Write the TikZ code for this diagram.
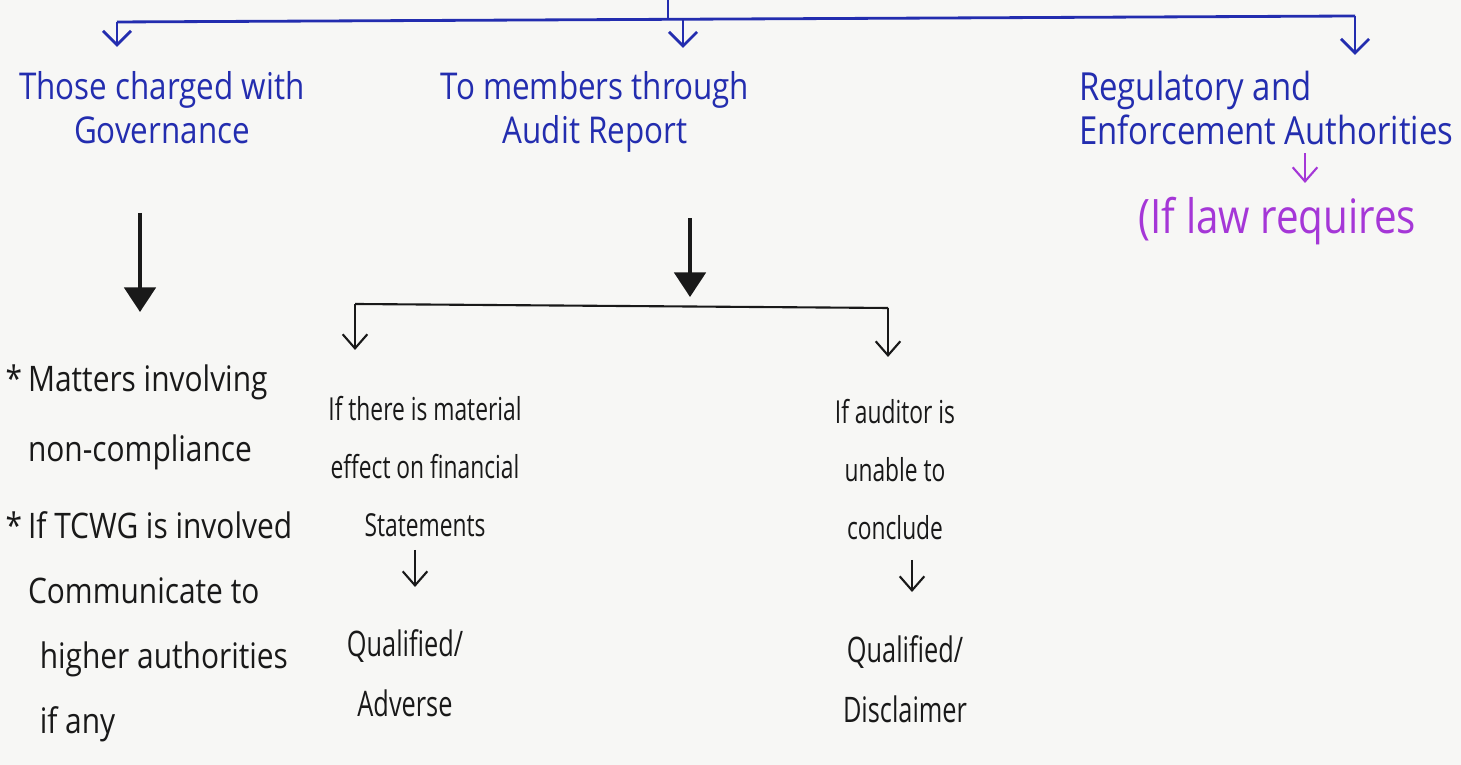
\documentclass[tikz,border=0pt]{standalone}
\usepackage{fontspec}
\setmainfont{Open Sans}[FakeStretch=0.85]
\newfontfamily\narrowhand{Open Sans}[FakeStretch=0.72]
\usetikzlibrary{positioning,arrows.meta}
\definecolor{paper}{RGB}{247,247,245}
\definecolor{blueink}{RGB}{35,45,175}
\definecolor{purpleink}{RGB}{165,55,215}
\definecolor{blackink}{RGB}{25,25,25}

\begin{document}
\begin{tikzpicture}[
    x=0.01cm, y=-0.01cm,
    head/.style={text=blueink, inner sep=0pt, align=center, font=\fontsize{10.5}{12.5}\selectfont},
    note/.style={text=blackink, inner sep=0pt, align=left, font=\fontsize{10}{20}\selectfont},
    cond/.style={text=blackink, inner sep=0pt, align=center, font=\narrowhand\fontsize{9}{16.5}\selectfont},
    verdict/.style={text=blackink, inner sep=0pt, align=center, font=\narrowhand\fontsize{10}{17}\selectfont},
    bar/.style={draw=blueink, line width=0.8pt},
    bluearrow/.style={bar, -{Straight Barb[length=4pt,width=8pt]}},
    bigarrow/.style={draw=blackink, line width=0.9pt, -{Triangle[length=7pt,width=9pt]}},
    penarrow/.style={draw=blackink, line width=0.6pt, -{Straight Barb[length=4pt,width=7pt]}}
]
\useasboundingbox (0,0) rectangle (1461,765);
\fill[paper] (0,0) rectangle (1461,765);

% Who the auditor reports to
\node[head, anchor=north] (gov) at (162,71) {Those charged with\\Governance};
\node[head, anchor=north] (memb) at (595,71) {To members through\\Audit Report};
\node[head, anchor=north east, align=left, font=\fontsize{11}{12.5}\selectfont] (reg) at (1454,70)
    {Regulatory and\\Enforcement Authorities};
\node[head, text=purpleink, anchor=north west, font=\fontsize{13.5}{14}\selectfont] (law) at (1138,196) {(If law requires};

% Top fork
\coordinate (root) at (668,0);
\coordinate (fork) at (668,20);
\coordinate (forkL) at (117,22);
\coordinate (forkM) at (683,20);
\coordinate (forkR) at (1355,16);
\draw[bar] (root) -- (fork);
\draw[bar] (forkL) -- (forkR);
\draw[bluearrow, shorten >=2.4mm] (forkL) -- (gov.north -| forkL);
\draw[bluearrow, shorten >=2.3mm] (forkM) -- (memb.north -| forkM);
\draw[bluearrow, shorten >=1.5mm] (forkR) -- (reg.north -| forkR);
\coordinate (lawx) at (1305,0);
\draw[penarrow, draw=purpleink, shorten <=0.8mm, shorten >=1.3mm] (reg.south -| lawx) -- (law.north -| lawx);

% Governance branch
\node[note, anchor=north west] (matters) at (5,364) {*\,Matters involving\\\phantom{*\,}non-compliance};
\node[note, anchor=north west, font=\fontsize{10}{18.5}\selectfont] (tcwg) at (5,511)
    {*\,If TCWG is involved\\\phantom{*\,}Communicate to\\\phantom{*\,\,\,}higher authorities\\\phantom{*\,\,\,}if any};
\coordinate (govx) at (140,0);
\draw[bigarrow, shorten <=6.8mm, shorten >=5.2mm] (gov.south -| govx) -- (matters.north -| govx);

% Audit report branch
\node[cond, anchor=north] (mat) at (425,396) {If there is material\\effect on financial\\Statements};
\node[cond, anchor=north] (aud) at (895,399) {If auditor is\\unable to\\conclude};
\node[verdict, below=9.1mm of mat, xshift=-2mm] (qadv) {Qualified/\\Adverse};
\node[verdict, below=9.4mm of aud, xshift=1mm] (qdis) {Qualified/\\Disclaimer};
\coordinate (membx) at (690,0);
\coordinate (brL) at (355,304);
\coordinate (brR) at (888,308);
\draw[bigarrow, shorten <=6.5mm, shorten >=0.7mm] (memb.south -| membx) -- (brL -| membx);
\draw[draw=blackink, line width=0.6pt] (brL) -- (brR);
\draw[penarrow, shorten >=4.6mm] (brL) -- (mat.north -| brL);
\draw[penarrow, shorten >=4.2mm] (brR) -- (aud.north -| brR);
\coordinate (matx) at (415,0);
\coordinate (audx) at (912,0);
\draw[penarrow, shorten <=1.2mm, shorten >=4.2mm] (mat.south -| matx) -- (qadv.north -| matx);
\draw[penarrow, shorten <=1.9mm, shorten >=4.3mm] (aud.south -| audx) -- (qdis.north -| audx);
\end{tikzpicture}
\end{document}
